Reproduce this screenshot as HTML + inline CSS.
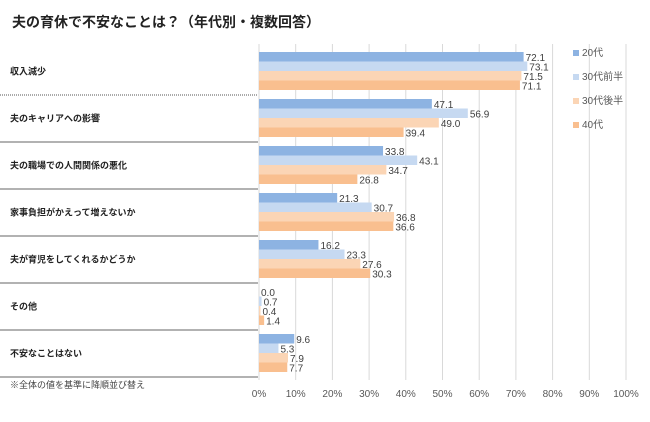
<!DOCTYPE html>
<html><head><meta charset="utf-8"><style>
body{margin:0;background:#fff;width:650px;height:417px;overflow:hidden}
svg{font-family:"Liberation Sans","Noto Sans CJK JP",sans-serif}
</style></head><body>
<svg id="chart" width="650" height="417">
<text x="12" y="27" font-size="14" font-weight="bold" fill="#222">夫の育休で不安なことは？（年代別・複数回答）</text>
<g id="grid"></g><g id="bars"></g><g id="labels"></g><g id="legend"></g>
<text x="10" y="388" font-size="9" fill="#444">※全体の値を基準に降順並び替え</text>
</svg>
<script>
const categories=["収入減少","夫のキャリアへの影響","夫の職場での人間関係の悪化","家事負担がかえって増えないか","夫が育児をしてくれるかどうか","その他","不安なことはない"];
const series=["20代","30代前半","30代後半","40代"];
const v20=[72.1,47.1,33.8,21.3,16.2,0.0,9.6];
const v30a=[73.1,56.9,43.1,30.7,23.3,0.7,5.3];
const v30b=[71.5,49.0,34.7,36.8,27.6,0.4,7.9];
const v40=[71.1,39.4,26.8,36.6,30.3,1.4,7.7];
const ticks=[0,10,20,30,40,50,60,70,80,90,100];
const colors=["#8db3e2","#c6d9f1","#fbd5b5","#f9bf8f"];
const NS="http://www.w3.org/2000/svg";
const xStart=259,xEnd=626,yTop=48,band=47,bh=9.5;
const xs=v=>xStart+(xEnd-xStart)*v/100;
function mk(t,a,p){const e=document.createElementNS(NS,t);for(const k in a)e.setAttribute(k,a[k]);p.appendChild(e);return e;}
const G=document.getElementById('grid'),B=document.getElementById('bars'),L=document.getElementById('labels'),LG=document.getElementById('legend');
ticks.forEach(t=>{
 const l=mk('line',{x1:xs(t),x2:xs(t),y1:44,y2:380,stroke:'#d9d9d9','stroke-width':1},G);
 
 
 const tx=mk('text',{x:xs(t),y:397,'font-size':10,fill:'#595959','text-anchor':'middle'},G);
 tx.textContent=t+'%';
 
 
});
const all=[v20,v30a,v30b,v40];
categories.forEach((c,i)=>{
 const y=yTop+band*i;
 const t=mk('text',{x:10,y:y+band/2+3,'font-size':9,'font-weight':'bold',fill:'#222'},L);
 t.textContent=c;
 
 
 const sep=mk('line',{x1:0,x2:258,y1:y+band,y2:y+band,stroke:i==0?'#555':'#666','stroke-width':1,'stroke-dasharray':i==0?'1,1':'none'},L);
 
 
 all.forEach((arr,s)=>{
  const by=y+4+s*bh;
  const r=mk('rect',{x:xStart,y:by,width:xs(arr[i])-xStart,height:bh,fill:colors[s]},B);
  
  
  const vt=mk('text',{x:xs(arr[i])+2,y:by+9,'font-size':10,fill:'#404040'},B);
  vt.textContent=arr[i].toFixed(1);
  
  
 });
});
series.forEach((s,k)=>{
 const y=56+k*24;
 const r=mk('rect',{x:573,y:y-6,width:6,height:6,fill:colors[k]},LG);
 
 
 const t=mk('text',{x:582,y:y,'font-size':10,fill:'#595959'},LG);
 t.textContent=s;
 
 
});
</script>
</body></html>
